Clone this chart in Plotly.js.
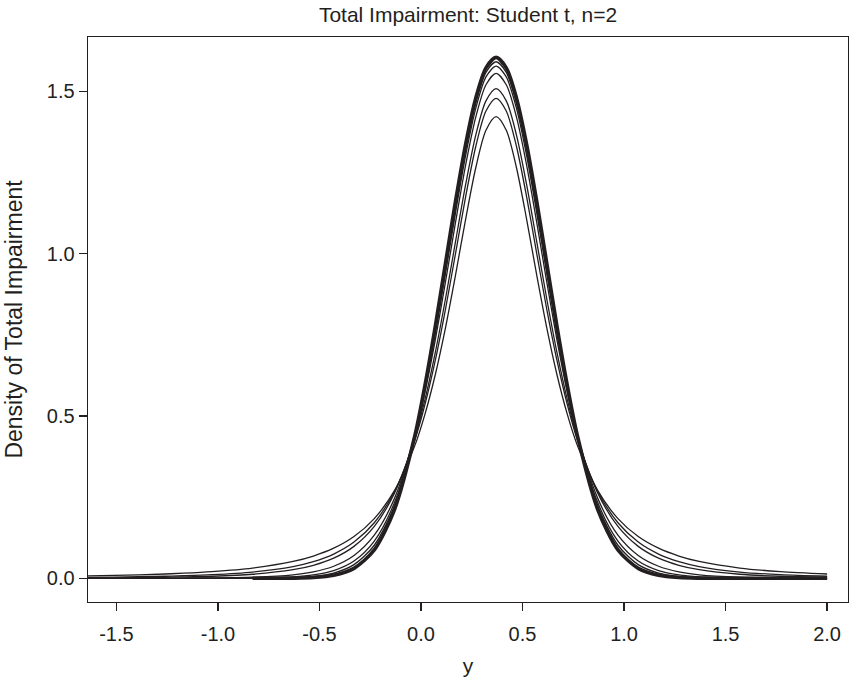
<!DOCTYPE html>
<html>
<head>
<meta charset="utf-8">
<script src="https://cdn.plot.ly/plotly-3.0.1.min.js"></script>
<style>html,body{margin:0;padding:0;background:#fff;}#chart{width:851px;height:678px;}</style>
</head>
<body>
<div id="chart"></div>
<script>
// x positions (y values on horizontal axis)
const xVals = [-1.70, -1.51, -1.26, -1.17, -1.03, -0.83, -0.63, -0.53, -0.43, -0.33, -0.23, -0.13, -0.03, 0.02, 0.07, 0.12, 0.17, 0.22, 0.27, 0.32, 0.37, 0.42, 0.47, 0.52, 0.57, 0.62, 0.67, 0.72, 0.77, 0.87, 0.97, 1.07, 1.17, 1.27, 1.37, 1.57, 1.77, 2.00];

// density curves (thin curves, heavier to lighter tails)
const curveA = [0.0067,0.0088,0.0133,0.0157,0.0206,0.0316,0.0519,0.0686,0.0927,0.1286,0.1839,0.2707,0.4093,0.5063,0.6261,0.7698,0.9338,1.1064,1.2651,1.3796,1.4216,1.3796,1.2651,1.1064,0.9338,0.7698,0.6261,0.5063,0.4093,0.2707,0.1839,0.1286,0.0927,0.0686,0.0519,0.0316,0.0206,0.0133];
const curveB = [0.0025,0.0037,0.0063,0.0078,0.0111,0.0193,0.0362,0.0513,0.0747,0.1115,0.1710,0.2682,0.4261,0.5362,0.6701,0.8270,1.0002,1.1756,1.3306,1.4389,1.4779,1.4389,1.3306,1.1756,1.0002,0.8270,0.6701,0.5362,0.4261,0.2682,0.1710,0.1115,0.0747,0.0513,0.0362,0.0193,0.0111,0.0063];
const curveC = [0.0010,0.0016,0.0032,0.0041,0.0063,0.0124,0.0264,0.0399,0.0619,0.0983,0.1597,0.2631,0.4333,0.5516,0.6942,0.8586,1.0366,1.2130,1.3656,1.4704,1.5078,1.4704,1.3656,1.2130,1.0366,0.8586,0.6942,0.5516,0.4333,0.2631,0.1597,0.0983,0.0619,0.0399,0.0264,0.0124,0.0063,0.0032];
const curveD = [0.0001,0.0001,0.0004,0.0006,0.0012,0.0034,0.0107,0.0198,0.0371,0.0703,0.1328,0.2469,0.4407,0.5747,0.7330,0.9104,1.0959,1.2729,1.4210,1.5201,1.5549,1.5201,1.4210,1.2729,1.0959,0.9104,0.7330,0.5747,0.4407,0.2469,0.1328,0.0703,0.0371,0.0198,0.0107,0.0034,0.0012,0.0004];
const curveE = [null,0.0000,0.0000,0.0001,0.0002,0.0009,0.0045,0.0104,0.0237,0.0531,0.1145,0.2339,0.4418,0.5850,0.7522,0.9365,1.1255,1.3024,1.4479,1.5440,1.5776,1.5440,1.4479,1.3024,1.1255,0.9365,0.7522,0.5850,0.4418,0.2339,0.1145,0.0531,0.0237,0.0104,0.0045,0.0009,0.0002,0.0000];
const curveF = [null,null,null,0.0000,0.0000,0.0002,0.0020,0.0058,0.0161,0.0421,0.1018,0.2242,0.4413,0.5906,0.7634,0.9520,1.1430,1.3197,1.4636,1.5580,1.5908,1.5580,1.4636,1.3197,1.1430,0.9520,0.7634,0.5906,0.4413,0.2242,0.1018,0.0421,0.0161,0.0058,0.0020,0.0002,0.0000,0.0000];
// limiting (thick) curve
const curveLimit = [null,null,null,null,null,0.0000,0.0005,0.0023,0.0091,0.0306,0.0874,0.2125,0.4400,0.5959,0.7749,0.9679,1.1608,1.3374,1.4795,1.5720,1.6041,1.5720,1.4795,1.3374,1.1608,0.9679,0.7749,0.5959,0.4400,0.2125,0.0874,0.0306,0.0091,0.0023,0.0005,0.0000,0.0000,0.0000];

const xTicks = [-1.5, -1.0, -0.5, 0.0, 0.5, 1.0, 1.5, 2.0];
const xTickText = ["-1.5", "-1.0", "-0.5", "0.0", "0.5", "1.0", "1.5", "2.0"];
const yTicks = [0.0, 0.5, 1.0, 1.5];
const yTickText = ["0.0", "0.5", "1.0", "1.5"];

const ink = '#231f20';
const thin = [curveA, curveB, curveC, curveD, curveE, curveF];
const traces = thin.map(c => ({
  x: xVals, y: c, type: 'scatter', mode: 'lines',
  line: {color: ink, width: 1.3, shape: 'spline', smoothing: 0.8},
  hoverinfo: 'skip', showlegend: false
}));
traces.push({
  x: xVals, y: curveLimit, type: 'scatter', mode: 'lines',
  line: {color: ink, width: 3.6, shape: 'spline', smoothing: 0.8},
  hoverinfo: 'skip', showlegend: false
});

const fontFam = '"Liberation Sans", Arial, sans-serif';
const layout = {
  width: 851, height: 678,
  margin: {l: 88, r: 3, t: 37, b: 76},
  paper_bgcolor: '#fff', plot_bgcolor: '#fff',
  font: {family: fontFam, color: ink, size: 20},
  title: {text: 'Total Impairment: Student t, n=2', font: {family: fontFam, size: 21, color: ink}, x: 0.5, xref: 'paper', y: 0.979, yanchor: 'middle'},
  xaxis: {
    range: [-1.640, 2.103], showgrid: false, zeroline: false,
    showline: true, mirror: true, linecolor: ink, linewidth: 1.4,
    ticks: 'outside', ticklen: 8, tickwidth: 1.4, tickcolor: ink,
    tickvals: xTicks, ticktext: xTickText, ticklabelstandoff: 6,
    tickfont: {size: 20, family: fontFam, color: ink},
    title: {text: 'y', font: {size: 21, family: fontFam, color: ink}, standoff: 14},
    automargin: false
  },
  yaxis: {
    range: [-0.073, 1.667], showgrid: false, zeroline: false,
    showline: true, mirror: true, linecolor: ink, linewidth: 1.4,
    ticks: 'outside', ticklen: 8, tickwidth: 1.4, tickcolor: ink,
    tickvals: yTicks, ticktext: yTickText,
    tickfont: {size: 20, family: fontFam, color: ink},
    title: {text: 'Density of Total Impairment', font: {size: 23, family: fontFam, color: ink}, standoff: 17},
    automargin: false
  }
};
Plotly.newPlot('chart', traces, layout, {staticPlot: true, displayModeBar: false});
</script>
</body>
</html>
